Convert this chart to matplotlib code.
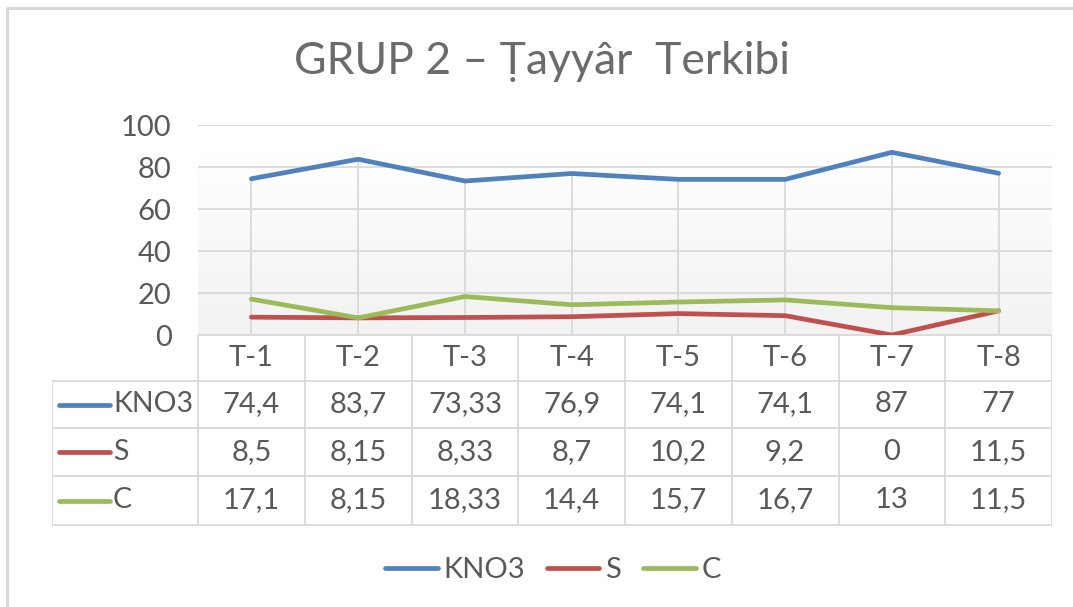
import numpy as np
import matplotlib
matplotlib.use("Agg")
import matplotlib.pyplot as plt
from matplotlib.lines import Line2D
from matplotlib.colors import LinearSegmentedColormap

categories = ["T-1", "T-2", "T-3", "T-4", "T-5", "T-6", "T-7", "T-8"]
kno3 = [74.4, 83.7, 73.33, 76.9, 74.1, 74.1, 87, 77]
s_vals = [8.5, 8.15, 8.33, 8.7, 10.2, 9.2, 0, 11.5]
c_vals = [17.1, 8.15, 18.33, 14.4, 15.7, 16.7, 13, 11.5]
series_names = ["KNO3", "S", "C"]
series_colors = ["#4F81BD", "#C0504D", "#9BBB59"]
title = "GRUP 2 – Ṭayyâr  Terkibi"
yticks = [0, 20, 40, 60, 80, 100]

series = [kno3, s_vals, c_vals]

W, H = 1073, 607
TXT = "#595959"
GRID = "#D9D9D9"
FONT = ["Lato", "DejaVu Sans"]
FS = 21
plt.rcParams["font.family"] = FONT

fig = plt.figure(figsize=(W / 100, H / 100), dpi=100)
fig.patch.set_facecolor("white")


def rect(x0, y0, x1, y1):
    return [x0 / W, 1 - y1 / H, (x1 - x0) / W, (y1 - y0) / H]


# chart frame (left and top edges)
frame = fig.add_axes([0, 0, 1, 1], zorder=-5)
frame.set_xlim(0, W)
frame.set_ylim(H, 0)
frame.axis("off")
frame.plot([6.5, 6.5, W], [H, 7.5, 7.5], color="#D9D9D9", lw=2.2, solid_capstyle="butt")

fig.text(542 / W, 1 - 61 / H, title, ha="center", va="center",
         fontsize=32, color="#6B6B6B")

# plot area
PX0, PX1, PY0, PY1 = 198, 1052, 125, 335
ax = fig.add_axes(rect(PX0, PY0, PX1, PY1))
n = len(categories)
x = np.arange(n) + 0.5
ax.set_xlim(0, n)
ax.set_ylim(0, 100)

grad = LinearSegmentedColormap.from_list("g", ["#F2F2F2", "#FFFFFF"])
ax.imshow(np.linspace(0, 1, 256).reshape(-1, 1), cmap=grad, origin="lower",
          extent=[0, n, 0, 88], aspect="auto", zorder=0)

for t in yticks:
    ax.axhline(t, color=GRID, lw=1.3, zorder=1)

# drop lines from the highest point of each category
tops = np.max(np.array(series), axis=0)
ax.vlines(x, 0, tops, color=GRID, lw=1.3, zorder=1)

for vals, col in zip(series, series_colors):
    ax.plot(x, vals, color=col, lw=3.4, solid_capstyle="round",
            solid_joinstyle="round", zorder=3)

ax.set_yticks(yticks)
ax.set_xticks([])
ax.tick_params(axis="y", length=0, pad=19, labelsize=FS, labelcolor=TXT)
for sp in ax.spines.values():
    sp.set_visible(False)

# data table
TX0, TY0, TY1 = 52, 335, 526
row_edges_px = [335, 381, 428, 476, 525]
cw = (PX1 - PX0) / n
tax = fig.add_axes(rect(TX0, TY0, PX1, TY1))
tax.set_xlim(-(PX0 - TX0) / cw, n)
tax.set_ylim(TY1, TY0)
tax.axis("off")
left = -(PX0 - TX0) / cw

for i in range(n + 1):
    tax.plot([i, i], [row_edges_px[0], row_edges_px[-1]], color=GRID, lw=1.3)
tax.plot([0, n], [row_edges_px[0]] * 2, color=GRID, lw=1.3)
for r in row_edges_px[1:]:
    tax.plot([left, n], [r, r], color=GRID, lw=1.3)
tax.plot([left, left], [row_edges_px[1], row_edges_px[-1]], color=GRID, lw=1.3)

hy = (row_edges_px[0] + row_edges_px[1]) / 2
for i, c in enumerate(categories):
    tax.text(i + 0.5, hy, c, ha="center", va="center", fontsize=FS, color=TXT)

for k, (name, vals, col) in enumerate(zip(series_names, series, series_colors)):
    cy = (row_edges_px[k + 1] + row_edges_px[k + 2]) / 2
    kx0 = left + (59 - TX0) / cw
    kx1 = left + (110 - TX0) / cw
    tax.plot([kx0, kx1], [cy, cy], color=col, lw=3.4, solid_capstyle="round")
    tax.text(left + (113 - TX0) / cw, cy, name, ha="left", va="center",
             fontsize=FS - 0.5, color=TXT)
    for i, v in enumerate(vals):
        label = f"{v:g}".replace(".", ",")
        tax.text(i + 0.5, cy, label, ha="center", va="center",
                 fontsize=FS, color=TXT)

# legend
handles = [Line2D([0], [0], color=c, lw=3.4, solid_capstyle="round")
           for c in series_colors]
fig.legend(handles, series_names, loc="center", bbox_to_anchor=(553 / W, 1 - 570 / H),
           ncol=3, frameon=False, fontsize=FS, labelcolor=TXT, handlelength=1.8,
           handletextpad=0.2, columnspacing=0.75)

fig.savefig("out.png", dpi=100, facecolor="white")
